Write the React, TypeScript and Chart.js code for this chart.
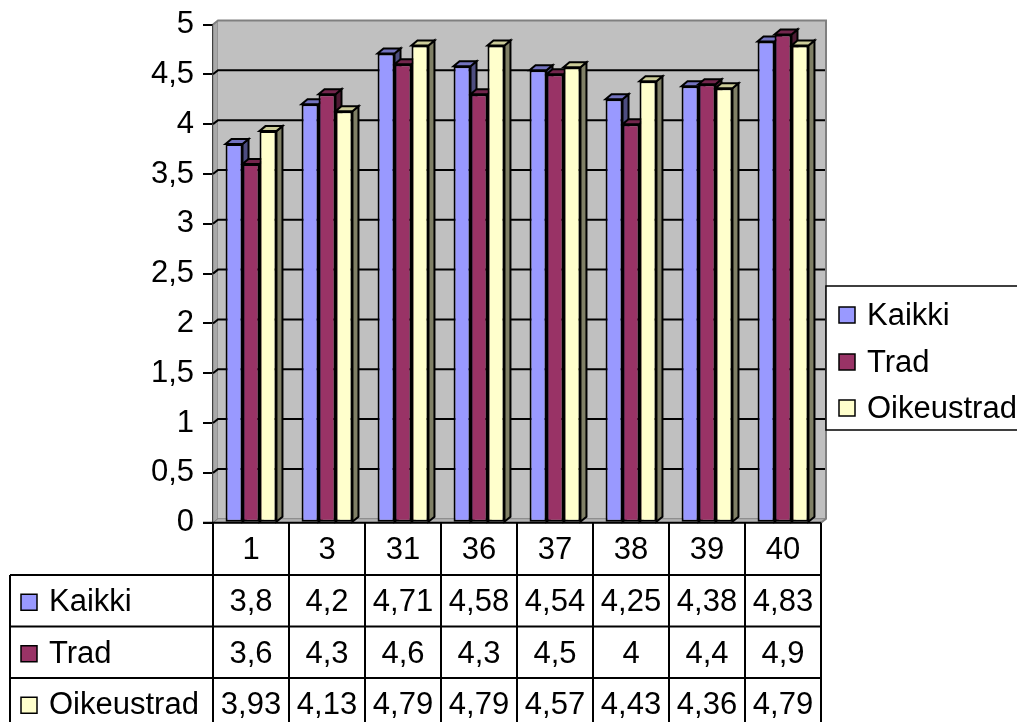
import { useEffect, useRef } from "react";
import { Chart, registerables } from "chart.js";

Chart.register(...registerables);

// Category labels and the three series
const categories = ["1", "3", "31", "36", "37", "38", "39", "40"];
const kaikki = [3.8, 4.2, 4.71, 4.58, 4.54, 4.25, 4.38, 4.83];
const trad = [3.6, 4.3, 4.6, 4.3, 4.5, 4, 4.4, 4.9];
const oikeustrad = [3.93, 4.13, 4.79, 4.79, 4.57, 4.43, 4.36, 4.79];
const seriesNames = ["Kaikki", "Trad", "Oikeustrad"];

// Axis range
const yMin = 0;
const yMax = 5;
const yStep = 0.5;

const FONT = '"Liberation Sans", Arial, sans-serif';
const FONT_SIZE = 31;

// front / top / side shading for each series
const faceColors = [
  { front: "#9999FF", top: "#7373BF", side: "#4D4D80" },
  { front: "#993366", top: "#73264D", side: "#4D1A33" },
  { front: "#FFFFCC", top: "#CCCC99", side: "#808066" },
];

const fmt = (v: number) => String(v).replace(".", ",");

// depth of walls and bars
const WALL_DX = 5;
const WALL_DY = -4;
const BAR_DX = 6;
const BAR_DY = -5;

function poly(ctx: CanvasRenderingContext2D, pts: number[][], fill: string, stroke: string, lw: number) {
  ctx.beginPath();
  ctx.moveTo(pts[0][0], pts[0][1]);
  for (let i = 1; i < pts.length; i++) ctx.lineTo(pts[i][0], pts[i][1]);
  ctx.closePath();
  ctx.fillStyle = fill;
  ctx.fill();
  if (lw > 0) {
    ctx.strokeStyle = stroke;
    ctx.lineWidth = lw;
    ctx.stroke();
  }
}

const excel3d = {
  id: "excel3d",
  beforeDatasetsDraw(chart: any) {
    const { ctx, chartArea } = chart;
    const { left, right, top, bottom } = chartArea;
    const yScale = chart.scales.y;
    ctx.save();
    ctx.lineJoin = "miter";

    // left side wall
    poly(
      ctx,
      [[left, top], [left + WALL_DX, top + WALL_DY], [left + WALL_DX, bottom + WALL_DY], [left, bottom]],
      "#A9A9A9", "#808080", 1
    );
    // back wall
    poly(
      ctx,
      [[left + WALL_DX, top + WALL_DY], [right + WALL_DX, top + WALL_DY], [right + WALL_DX, bottom + WALL_DY], [left + WALL_DX, bottom + WALL_DY]],
      "#C0C0C0", "#C0C0C0", 0
    );
    // floor
    poly(
      ctx,
      [[left, bottom], [right, bottom], [right + WALL_DX, bottom + WALL_DY], [left + WALL_DX, bottom + WALL_DY]],
      "#B4B4B4", "#808080", 1
    );

    // gridlines across the side wall and back wall
    ctx.strokeStyle = "#000";
    ctx.lineWidth = 2;
    for (let v = yMin + yStep; v < yMax - 1e-9; v += yStep) {
      const y = yScale.getPixelForValue(v);
      ctx.beginPath();
      ctx.moveTo(left, y);
      ctx.lineTo(left + WALL_DX, y + WALL_DY);
      ctx.lineTo(right + WALL_DX, y + WALL_DY);
      ctx.stroke();
    }

    // wall outline
    ctx.strokeStyle = "#808080";
    ctx.lineWidth = 2;
    ctx.beginPath();
    ctx.moveTo(left, top);
    ctx.lineTo(left + WALL_DX, top + WALL_DY);
    ctx.lineTo(right + WALL_DX, top + WALL_DY);
    ctx.lineTo(right + WALL_DX, bottom + WALL_DY);
    ctx.lineTo(right, bottom);
    ctx.stroke();

    // top and side faces of every bar
    chart.data.datasets.forEach((_: any, di: number) => {
      const meta = chart.getDatasetMeta(di);
      const c = faceColors[di];
      meta.data.forEach((bar: any) => {
        const { x, y, width, base } = bar.getProps(["x", "y", "width", "base"], true);
        const l = x - width / 2;
        const r = x + width / 2;
        poly(ctx, [[r, y], [r + BAR_DX, y + BAR_DY], [r + BAR_DX, base + BAR_DY], [r, base]], c.side, "#000", 2);
        poly(ctx, [[l, y], [r, y], [r + BAR_DX, y + BAR_DY], [l + BAR_DX, y + BAR_DY]], c.top, "#000", 2);
      });
    });
    ctx.restore();
  },
  afterDraw(chart: any) {
    const { ctx, chartArea } = chart;
    const { left, right, bottom } = chartArea;
    const xScale = chart.scales.x;
    const colW = (right - left) / categories.length;
    const series = [kaikki, trad, oikeustrad];

    ctx.save();
    ctx.strokeStyle = "#000";
    ctx.lineWidth = 2;
    ctx.font = `${FONT_SIZE}px ${FONT}`;
    ctx.fillStyle = "#000";
    ctx.textBaseline = "middle";

    const rowH = 51.5;
    const headerBottom = bottom + 52.3;
    const tableLeft = 10;
    const canvasH = chart.height;

    // horizontal rules
    ctx.beginPath();
    ctx.moveTo(left - 10, bottom);
    ctx.lineTo(right, bottom);
    for (let r = 0; r < 3; r++) {
      const y = headerBottom + r * rowH;
      ctx.moveTo(tableLeft, y);
      ctx.lineTo(right, y);
    }
    // vertical rules
    for (let i = 0; i <= categories.length; i++) {
      const x = left + i * colW;
      ctx.moveTo(x, bottom);
      ctx.lineTo(x, canvasH + 5);
    }
    ctx.moveTo(tableLeft, headerBottom);
    ctx.lineTo(tableLeft, canvasH + 5);
    ctx.stroke();

    // category labels
    ctx.textAlign = "center";
    categories.forEach((cat, i) => {
      ctx.fillText(cat, xScale.getPixelForValue(i), (bottom + headerBottom) / 2 + 2);
    });

    // series rows
    series.forEach((vals, si) => {
      const yc = headerBottom + si * rowH + rowH / 2 + 2;
      ctx.textAlign = "center";
      vals.forEach((v, i) => {
        ctx.fillText(fmt(v), xScale.getPixelForValue(i), yc);
      });
      ctx.fillStyle = faceColors[si].front;
      ctx.fillRect(21, yc - 8.5, 16, 16);
      ctx.lineWidth = 1.5;
      ctx.strokeRect(21, yc - 8.5, 16, 16);
      ctx.fillStyle = "#000";
      ctx.textAlign = "left";
      ctx.fillText(seriesNames[si], 49, yc);
    });

    // legend
    const lgLeft = 826;
    const lgTop = 286;
    const lgBottom = 430;
    ctx.fillStyle = "#fff";
    ctx.fillRect(lgLeft, lgTop, chart.width - lgLeft + 5, lgBottom - lgTop);
    ctx.lineWidth = 1.5;
    ctx.beginPath();
    ctx.moveTo(chart.width + 5, lgTop);
    ctx.lineTo(lgLeft, lgTop);
    ctx.lineTo(lgLeft, lgBottom);
    ctx.lineTo(chart.width + 5, lgBottom);
    ctx.stroke();
    const lgRows = [315, 362, 408];
    seriesNames.forEach((name, si) => {
      const yc = lgRows[si];
      ctx.fillStyle = faceColors[si].front;
      ctx.fillRect(839, yc - 8, 16, 16);
      ctx.strokeRect(839, yc - 8, 16, 16);
      ctx.fillStyle = "#000";
      ctx.textAlign = "left";
      ctx.fillText(name, 867, yc + 1);
    });
    ctx.restore();
  },
};

export default function App() {
  const canvasRef = useRef<HTMLCanvasElement | null>(null);

  useEffect(() => {
    if (!canvasRef.current) return;
    const chart = new Chart(canvasRef.current, {
      type: "bar",
      data: {
        labels: categories,
        datasets: [kaikki, trad, oikeustrad].map((vals, i) => ({
          label: seriesNames[i],
          data: vals,
          backgroundColor: faceColors[i].front,
          borderColor: "#000",
          borderWidth: 2,
          borderSkipped: false,
          categoryPercentage: 0.67,
          barPercentage: 1,
        })),
      },
      options: {
        animation: false,
        responsive: false,
        maintainAspectRatio: false,
        devicePixelRatio: 1,
        layout: { padding: { left: 0, top: 19, right: 196, bottom: 199.3 } },
        plugins: { legend: { display: false }, tooltip: { enabled: false } },
        scales: {
          x: { display: false },
          y: {
            min: yMin,
            max: yMax,
            ticks: {
              stepSize: yStep,
              color: "#000",
              padding: 9,
              font: { family: FONT, size: FONT_SIZE, lineHeight: 1 },
              callback: (v: any) => fmt(Number(v)),
            },
            grid: { drawOnChartArea: false, drawTicks: true, tickLength: 10, color: "#000", lineWidth: 2 },
            border: { display: true, color: "#000", width: 2 },
            afterFit: (scale: any) => {
              scale.width = 213;
            },
          },
        },
      },
      plugins: [excel3d],
    });
    return () => chart.destroy();
  }, []);

  return (
    <div style={{ position: "absolute", left: 0, top: 0, width: 1017, height: 722, background: "#fff" }}>
      <canvas ref={canvasRef} width={1017} height={722} style={{ display: "block" }} />
    </div>
  );
}
